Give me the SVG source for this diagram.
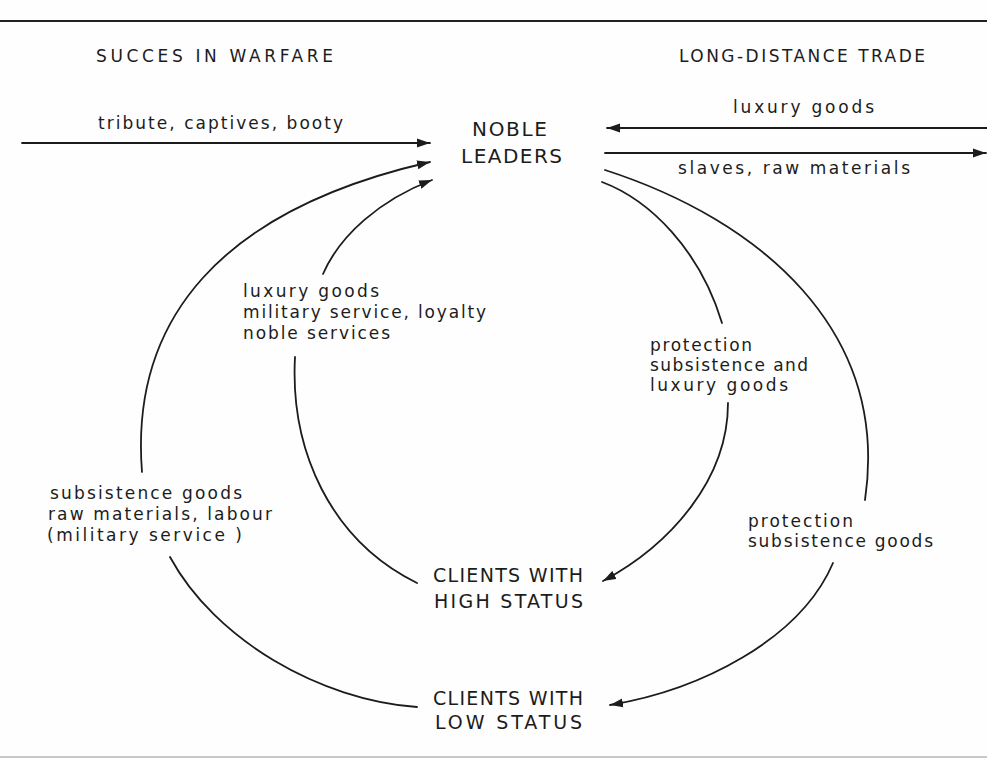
<svg xmlns="http://www.w3.org/2000/svg" width="987" height="760" viewBox="0 0 987 760">
  <defs>
    <style>
      .t { font-family: "DejaVu Sans", "Liberation Sans", sans-serif; fill: #1c1c1c; }
      .lab { font-size: 17px; }
      .cap { font-size: 19px; }
      .ttl { font-size: 17px; }
      .ln { fill: none; stroke: #1c1c1c; stroke-width: 1.8; stroke-linecap: round; }
    </style>
    <marker id="ah" markerUnits="userSpaceOnUse" markerWidth="14" markerHeight="10" refX="13" refY="5" orient="auto">
      <path d="M0,0.5 L13,5 L0,9.5 z" fill="#1c1c1c"/>
    </marker>
  </defs>
  <rect x="0" y="0" width="987" height="760" fill="#fefefe"/>
  <line x1="0" y1="21" x2="987" y2="21" stroke="#222" stroke-width="2"/>
  <line x1="0" y1="757" x2="987" y2="757" stroke="#c8c8c8" stroke-width="2"/>

  <g id="warfare">
    <text class="t ttl" x="96" y="62" textLength="237" lengthAdjust="spacing">SUCCES IN WARFARE</text>
  </g>
  <g id="trade">
    <text class="t ttl" x="679" y="62" textLength="246" lengthAdjust="spacing">LONG-DISTANCE TRADE</text>
  </g>
  <g id="noble-leaders">
    <text class="t" font-size="20" x="472" y="136" textLength="75" lengthAdjust="spacing">NOBLE</text>
    <text class="t" font-size="20" x="461" y="163" textLength="101" lengthAdjust="spacing">LEADERS</text>
  </g>
  <g id="clients-high">
    <text class="t cap" x="433" y="582" textLength="150" lengthAdjust="spacing">CLIENTS WITH</text>
    <text class="t cap" x="434" y="608" textLength="149" lengthAdjust="spacing">HIGH STATUS</text>
  </g>
  <g id="clients-low">
    <text class="t cap" x="433" y="705" textLength="150" lengthAdjust="spacing">CLIENTS WITH</text>
    <text class="t cap" x="435" y="729" textLength="147" lengthAdjust="spacing">LOW STATUS</text>
  </g>

  <g id="connectors">
    <path class="ln" d="M22,143 L430,143" marker-end="url(#ah)"/>
    <path class="ln" d="M987,128 L607,128" marker-end="url(#ah)"/>
    <path class="ln" d="M605,153 L986,153" marker-end="url(#ah)"/>
    <path class="ln" d="M142,472 C130,320 220,210 430,162" marker-end="url(#ah)"/>
    <path class="ln" d="M170,557 C215,640 320,700 417,707"/>
    <path class="ln" d="M323,274 C340,235 380,200 432,180" marker-end="url(#ah)"/>
    <path class="ln" d="M295,357 C290,450 330,540 417,583"/>
    <path class="ln" d="M602,182 C650,200 700,250 722,323"/>
    <path class="ln" d="M728,403 C728,480 670,545 603,581" marker-end="url(#ah)"/>
    <path class="ln" d="M605,170 C760,220 890,330 865,500"/>
    <path class="ln" d="M833,563 C800,640 700,690 610,705" marker-end="url(#ah)"/>
  </g>

  <g id="edge-labels">
    <text class="t lab" x="98" y="129" textLength="245" lengthAdjust="spacing">tribute, captives, booty</text>
    <text class="t lab" x="733" y="113" textLength="141" lengthAdjust="spacing">luxury goods</text>
    <text class="t lab" x="678" y="174" textLength="232" lengthAdjust="spacing">slaves, raw materials</text>

    <text class="t lab" x="243" y="297" textLength="136" lengthAdjust="spacing">luxury goods</text>
    <text class="t lab" x="243" y="318" textLength="243" lengthAdjust="spacing">military service, loyalty</text>
    <text class="t lab" x="243" y="339" textLength="147" lengthAdjust="spacing">noble services</text>

    <text class="t lab" x="650" y="351" textLength="102" lengthAdjust="spacing">protection</text>
    <text class="t lab" x="650" y="371" textLength="158" lengthAdjust="spacing">subsistence and</text>
    <text class="t lab" x="650" y="391" textLength="138" lengthAdjust="spacing">luxury goods</text>

    <text class="t lab" x="748" y="527" textLength="105" lengthAdjust="spacing">protection</text>
    <text class="t lab" x="748" y="547" textLength="185" lengthAdjust="spacing">subsistence goods</text>

    <text class="t lab" x="50" y="499" textLength="192" lengthAdjust="spacing">subsistence goods</text>
    <text class="t lab" x="48" y="520" textLength="224" lengthAdjust="spacing">raw materials, labour</text>
    <text class="t lab" x="47" y="541" textLength="195" lengthAdjust="spacing">(military service )</text>
  </g>
</svg>
